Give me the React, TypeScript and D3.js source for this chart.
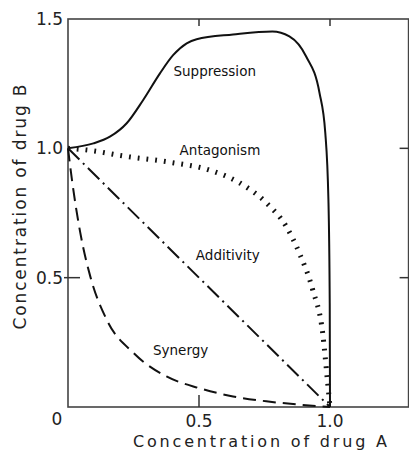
import React from "react";
import { scaleLinear, line, curveMonotoneX } from "d3";

// isobologram curves as [drug A, drug B]
const suppression: [number, number][] = [
  [0, 1.0], [0.097, 1.019], [0.16, 1.045], [0.224, 1.097], [0.287, 1.187],
  [0.351, 1.29], [0.402, 1.361], [0.453, 1.406], [0.491, 1.422], [0.63, 1.44],
  [0.78, 1.452], [0.845, 1.433], [0.909, 1.355], [0.96, 1.214], [0.982, 1.06],
  [0.994, 0.8], [0.999, 0.4], [1.0, 0]
];
const antagonism: [number, number][] = [
  [0, 1.0], [0.1, 0.99], [0.2, 0.972], [0.39, 0.946], [0.54, 0.916], [0.656, 0.866],
  [0.757, 0.789], [0.833, 0.698], [0.883, 0.595], [0.934, 0.453],
  [0.972, 0.286], [0.991, 0.094], [1.0, 0]
];
const additivity: [number, number][] = [[0, 1.0], [1.0, 0]];
const synergy: [number, number][] = [
  [0, 1.0], [0.015, 0.879], [0.047, 0.673], [0.085, 0.505], [0.148, 0.337],
  [0.25, 0.209], [0.376, 0.118], [0.5, 0.073], [0.63, 0.041], [0.757, 0.022],
  [0.885, 0.009], [1.0, 0]
];

const curveLabels = ["Suppression", "Antagonism", "Additivity", "Synergy"];
const labelSpots: [number, number][] = [[0.56, 1.28], [0.58, 0.975], [0.61, 0.57], [0.43, 0.2]];

const xTicks = [0.5, 1.0];
const yTicks = [0.5, 1.0, 1.5];
const font = "'DejaVu Sans', sans-serif";

export default function App() {
  const width = 409;
  const height = 451;

  const x = scaleLinear().domain([0, 1.3]).range([68, 408.6]);
  const y = scaleLinear().domain([0, 1.5]).range([407, 19]);

  const path = line<[number, number]>()
    .x(d => x(d[0]))
    .y(d => y(d[1]))
    .curve(curveMonotoneX);

  const x0 = x(0), x1 = x(1.3), y0 = y(0), y1 = y(1.5);

  return (
    <svg width={width} height={height} style={{ position: "absolute", left: 0, top: 0, background: "#fff" }}>
      {/* frame */}
      <rect x={x0} y={y1} width={x1 - x0} height={y0 - y1} fill="none" stroke="#444" strokeWidth={1.6} />

      {/* ticks */}
      {xTicks.map(t => (
        <g key={"xt" + t}>
          <line x1={x(t)} x2={x(t)} y1={y1} y2={y1 + 7} stroke="#333" strokeWidth={1.5} />
          {t === 0.5 && <line x1={x(t)} x2={x(t)} y1={y0} y2={y0 - 12} stroke="#333" strokeWidth={1.5} />}
          <text x={x(t)} y={427} textAnchor="middle" fontFamily={font} fontSize={17} fill="#222">{t.toFixed(1)}</text>
        </g>
      ))}
      <text x={57} y={425} textAnchor="middle" fontFamily={font} fontSize={17} fill="#222">0</text>
      {yTicks.map(t => (
        <g key={"yt" + t}>
          {t === 0.5 && <line x1={x0 - 4} x2={x0 + 12} y1={y(t)} y2={y(t)} stroke="#333" strokeWidth={1.5} />}
          {t < 1.5 && <line x1={x1} x2={x1 - 9} y1={y(t)} y2={y(t)} stroke="#333" strokeWidth={1.5} />}
          <text x={63} y={y(t) + 6} textAnchor="end" fontFamily={font} fontSize={17} fill="#222">{t.toFixed(1)}</text>
        </g>
      ))}

      {/* curves */}
      <path d={path(synergy) ?? ""} fill="none" stroke="#111" strokeWidth={2} strokeDasharray="13 7" />
      <path d={path(additivity) ?? ""} fill="none" stroke="#111" strokeWidth={2} strokeDasharray="16 5 2 5" />
      <path d={path(antagonism) ?? ""} fill="none" stroke="#111" strokeWidth={5} strokeDasharray="1.8 7" />
      <path d={path(suppression) ?? ""} fill="none" stroke="#111" strokeWidth={2} />

      {curveLabels.map((l, i) => (
        <text key={l} x={x(labelSpots[i][0])} y={y(labelSpots[i][1])} textAnchor="middle"
          fontFamily={font} fontSize={13.5} fill="#111">{l}</text>
      ))}

      {/* axis titles */}
      <text x={260} y={447} textAnchor="middle" fontFamily={font} fontSize={16} fill="#222"
        textLength={254} lengthAdjust="spacing">Concentration of drug A</text>
      <text transform="translate(26,207) rotate(-90)" textAnchor="middle" fontFamily={font} fontSize={17}
        fill="#222" textLength={245} lengthAdjust="spacing">Concentration of drug B</text>
    </svg>
  );
}
